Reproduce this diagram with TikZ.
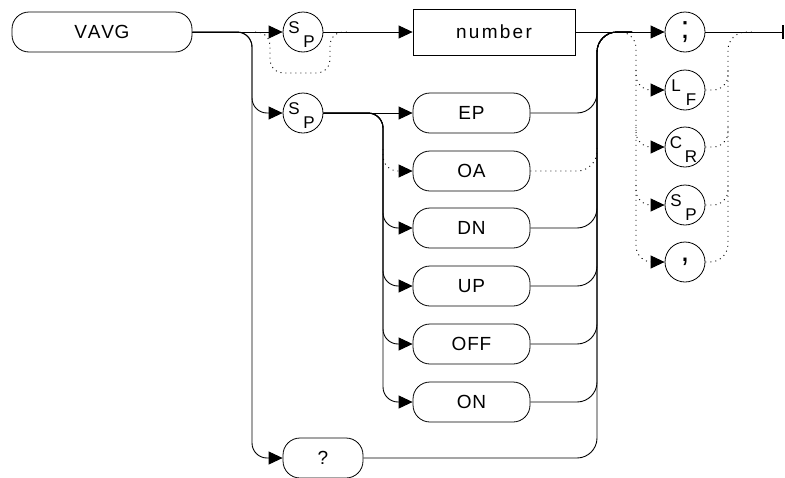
\documentclass[tikz,border=0pt]{standalone}
\usepackage{fontspec}
\setmainfont{Liberation Sans}[Kerning=Off,LetterSpace=4]
\newfontfamily\widefont[Kerning=Off,LetterSpace=12]{Liberation Sans}
\usetikzlibrary{arrows.meta,calc}
\tikzset{
  ln/.style={line width=0.9pt, draw=black},
  dl/.style={line width=0.9pt, draw=black, dash pattern=on 1pt off 4pt},
  tip/.style={-{Triangle[length=14pt,width=13pt]}},
  rbox/.style={draw, line width=0.8pt, rounded corners=17pt, minimum height=40pt, inner sep=0pt, font=\fontsize{19}{19}\selectfont},
  sbox/.style={draw, line width=0.8pt, rectangle, minimum height=46pt, minimum width=162pt, inner sep=0pt, font=\fontsize{19}{19}\selectfont\widefont},
  circ/.style={draw, line width=0.8pt, circle, minimum size=40pt, inner sep=0pt},
  sub/.style={inner sep=0pt, font=\fontsize{17}{17}\selectfont},
  punct/.style={circ, font=\fontsize{32}{32}\selectfont},
}
\begin{document}
\begin{tikzpicture}[x=1pt,y=-1pt]
\useasboundingbox (0,0) rectangle (785,477);
% nodes
\node[rbox, minimum width=180pt] (vavg) at (102,32) {VAVG};
\node[circ] (sp1) at (303,32) {};
\node[sub] (sp1s) at ($(sp1)+(-9,-4.5)$) {S};
\node[sub] (sp1p) at ($(sp1)+(6,9.5)$) {P};
\node[sbox] (num) at (494,32) {number};
\node[circ] (sp2) at (303,113) {};
\node[sub] (sp2s) at ($(sp2)+(-9,-4.5)$) {S};
\node[sub] (sp2p) at ($(sp2)+(6,9.5)$) {P};
\node[rbox, minimum width=117pt] (ep) at (471.5,113) {EP};
\node[rbox, minimum width=117pt] (oa) at (471.5,171) {OA};
\node[rbox, minimum width=117pt] (dn) at (471.5,228) {DN};
\node[rbox, minimum width=117pt] (up) at (471.5,286) {UP};
\node[rbox, minimum width=117pt] (off) at (471.5,344) {OFF};
\node[rbox, minimum width=117pt] (on) at (471.5,402) {ON};
\node[rbox, minimum width=80pt] (q) at (323,458) {?};
\node[punct] (sc) at (685,32) {;};
\node[circ] (lf) at (685,90) {};
\node[sub] (lfl) at ($(lf)+(-9,-4.5)$) {L};
\node[sub] (lff) at ($(lf)+(6,9.5)$) {F};
\node[circ] (cr) at (685,147) {};
\node[sub] (crc) at ($(cr)+(-9,-4.5)$) {C};
\node[sub] (crr) at ($(cr)+(6,9.5)$) {R};
\node[circ] (sp3) at (685,205) {};
\node[sub] (sp3s) at ($(sp3)+(-9,-4.5)$) {S};
\node[sub] (sp3p) at ($(sp3)+(6,9.5)$) {P};
\node[punct] (cm) at (685,262) {,};
% helper coordinates
\coordinate (lbus) at (252,32);
\coordinate (bus) at (383,113);
\coordinate (col) at (597,32);
\coordinate (lb) at (636,32);
\coordinate (rb) at (728,32);
\coordinate (term) at (783,32);
% main line
\draw[ln,tip] (vavg.east) -- (sp1.west);
\draw[ln,tip] (sp1.east) -- (num.west);
\draw[dl,rounded corners=13pt] (255,32) -| (270,73) -| (330,32) -- (348,32);
\draw[ln,tip,rounded corners=15pt] (vavg.east) -| (lbus |- sp2.west) -- (sp2.west);
\draw[ln,tip,rounded corners=15pt] (vavg.east) -| (lbus |- q.west) -- (q.west);
% SP2 branches
\draw[ln,tip] (sp2.east) -- (ep.west);
\foreach \n in {dn,up,off,on}{
  \draw[ln,tip,rounded corners=15pt] (sp2.east) -| (bus |- \n.west) -- (\n.west);
}
\draw[dl,tip,rounded corners=15pt] ($(bus |- oa.west)+(0,-22)$) |- (oa.west);
% collector
\foreach \n in {ep,dn,up,off,on,q}{
  \draw[ln,rounded corners=20pt] (\n.east) -| (col) -- (632,32);
}
\draw[dl,rounded corners=20pt] (oa.east) -| ($(col |- oa.east)+(0,-25)$);
\draw[ln,tip] (num.east) -- (sc.west);
% terminator
\draw[ln] (sc.east) -- (term);
\draw[line width=1.6pt] ($(term)+(0,-7)$) -- ($(term)+(0,7)$);
% right column dotted buses
\draw[dl,tip,rounded corners=16pt] (617,32) -| (lb |- cm.west) -- (cm.west);
\foreach \n in {lf,cr,sp3}{
  \draw[dl,tip,rounded corners=15pt] ($(lb |- \n.west)+(0,-20)$) |- (\n.west);
  \draw[dl,rounded corners=15pt] (\n.east) -| ($(rb |- \n.east)+(0,-20)$);
}
\draw[dl,rounded corners=18pt] (cm.east) -| (rb) -- (752,32);
\end{tikzpicture}
\end{document}
